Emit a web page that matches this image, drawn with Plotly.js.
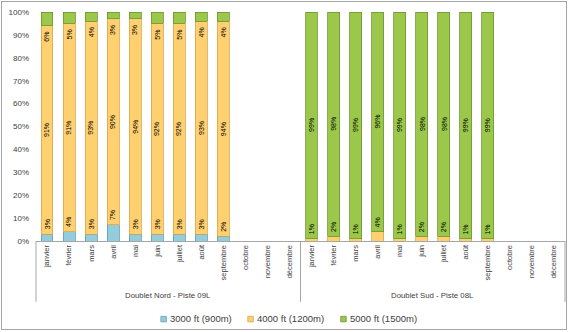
<!DOCTYPE html>
<html><head><meta charset="utf-8">
<script src="https://cdn.plot.ly/plotly-3.0.1.min.js"></script>
<style>
html,body{margin:0;padding:0;background:#fff;}
#wrap{position:relative;width:576px;height:332px;}
#chart{width:576px;height:332px;}
#frame{position:absolute;left:1px;top:1px;width:564px;height:327px;border:1px solid #a6a6a6;pointer-events:none;}
</style></head>
<body><div id="wrap"><div id="chart"></div><div id="frame"></div></div>
<script>
const months = ['janvier','février','mars','avril','mai','juin','juillet','août','septembre','octobre','novembre','décembre'];
const groups = ['Doublet Nord - Piste 09L','Doublet Sud - Piste 08L'];
const seriesNames = ['3000 ft (900m)','4000 ft (1200m)','5000 ft (1500m)'];
const nord3000 = [3,4,3,7,3,3,3,3,2];
const nord4000 = [91,91,93,90,94,92,92,93,94];
const nord5000 = [6,5,4,3,3,5,5,4,4];
const sud3000 = [0,0,0,0,0,0,0,0,0];
const sud4000 = [1,2,1,4,1,2,2,1,1];
const sud5000 = [99,98,99,96,99,98,98,99,99];

const fills = ['#93CDDD','#FFD070','#9BC84A'];
const edges = ['#5E9FB5','#D9A64A','#6E9632'];

const keys = [], tickText = [];
groups.forEach((g,gi)=>months.forEach((m,mi)=>{keys.push(gi+'-'+mi); tickText.push(m);}));
function pad(a){const r=[]; for(let i=0;i<12;i++) r.push(i<a.length?a[i]:null); return r;}
const s3000 = pad(nord3000).concat(pad(sud3000));
const s4000 = pad(nord4000).concat(pad(sud4000));
const s5000 = pad(nord5000).concat(pad(sud5000));
const allSeries = [s3000,s4000,s5000];

const traces = allSeries.map((vals,si)=>({
  type:'bar', x:keys, y:vals, name:seriesNames[si], width:0.54,
  marker:{color:fills[si], line:{color:edges[si], width:0.8}},
  hoverinfo:'skip', showlegend:false
}));

// pixel -> paper helpers (plot area: x 36..565.5, y 11.5..241)
const PX0=36, PX1=565.5, PY0=241, PH=229.5;
const px = v => (v-PX0)/(PX1-PX0);
const py = v => (PY0-v)/PH;

const anns = [];
const lf = {family:'Liberation Sans, Arial, sans-serif', size:7, color:'#000'};
function lab(x,y,txt,shift){anns.push({x:x,y:y,xref:'x',yref:'y',text:txt,showarrow:false,textangle:-90,font:lf,xanchor:'center',yanchor:'middle',yshift:shift});}
keys.forEach((k,i)=>{
  const a=s3000[i], b=s4000[i], c=s5000[i];
  if(a===null) return;
  if(i<12){
    lab(k,a,a+'%',10);
    lab(k,a+b/2,b+'%',0);
    lab(k,100-c,c+'%',-11);
  } else {
    lab(k,a+b,b+'%',9);
    lab(k,a+b+c/2,c+'%',0);
  }
});
groups.forEach((g,gi)=>anns.push({x:0.25+0.5*gi,y:py(296),xref:'paper',yref:'paper',text:g,showarrow:false,
  font:{family:'Liberation Sans, Arial, sans-serif',size:7.8,color:'#404040'},xanchor:'center',yanchor:'middle'}));

const shapes = [0,0.5,1].map(p=>({type:'line',xref:'paper',yref:'paper',x0:p,x1:p,y0:0,y1:py(302),line:{color:'#a6a6a6',width:1}}));

// manual legend
const legX = [161, 248, 341];
seriesNames.forEach((n,si)=>{
  shapes.push({type:'rect',xref:'paper',yref:'paper',x0:px(legX[si]),x1:px(legX[si]+5.5),y0:py(316.5),y1:py(322),
    fillcolor:fills[si],line:{color:edges[si],width:0.8}});
  anns.push({x:px(legX[si]+7),y:py(319),xref:'paper',yref:'paper',text:n,showarrow:false,xanchor:'left',yanchor:'middle',
    font:{family:'Liberation Sans, Arial, sans-serif',size:9.5,color:'#404040'}});
});

const layout = {
  width:576, height:332, barmode:'stack', bargap:0.46,
  margin:{l:36,r:10.5,t:11.5,b:91,pad:0,autoexpand:false},
  paper_bgcolor:'#fff', plot_bgcolor:'#fff',
  font:{family:'Liberation Sans, Arial, sans-serif',size:8,color:'#404040'},
  showlegend:false,
  xaxis:{type:'category',tickvals:keys,ticktext:tickText,tickangle:-90,tickfont:{size:7.5,color:'#404040'},
    showgrid:false,zeroline:false,showline:true,linecolor:'#a6a6a6',linewidth:1,ticks:'',fixedrange:true,automargin:false},
  yaxis:{range:[0,100],dtick:10,ticksuffix:'%',showgrid:false,zeroline:false,showline:false,ticks:'',
    tickfont:{size:8,color:'#404040'},ticklabelstandoff:6,fixedrange:true,automargin:false},
  annotations:anns, shapes:shapes
};
Plotly.newPlot('chart',traces,layout,{displayModeBar:false,staticPlot:true});
</script></body></html>
